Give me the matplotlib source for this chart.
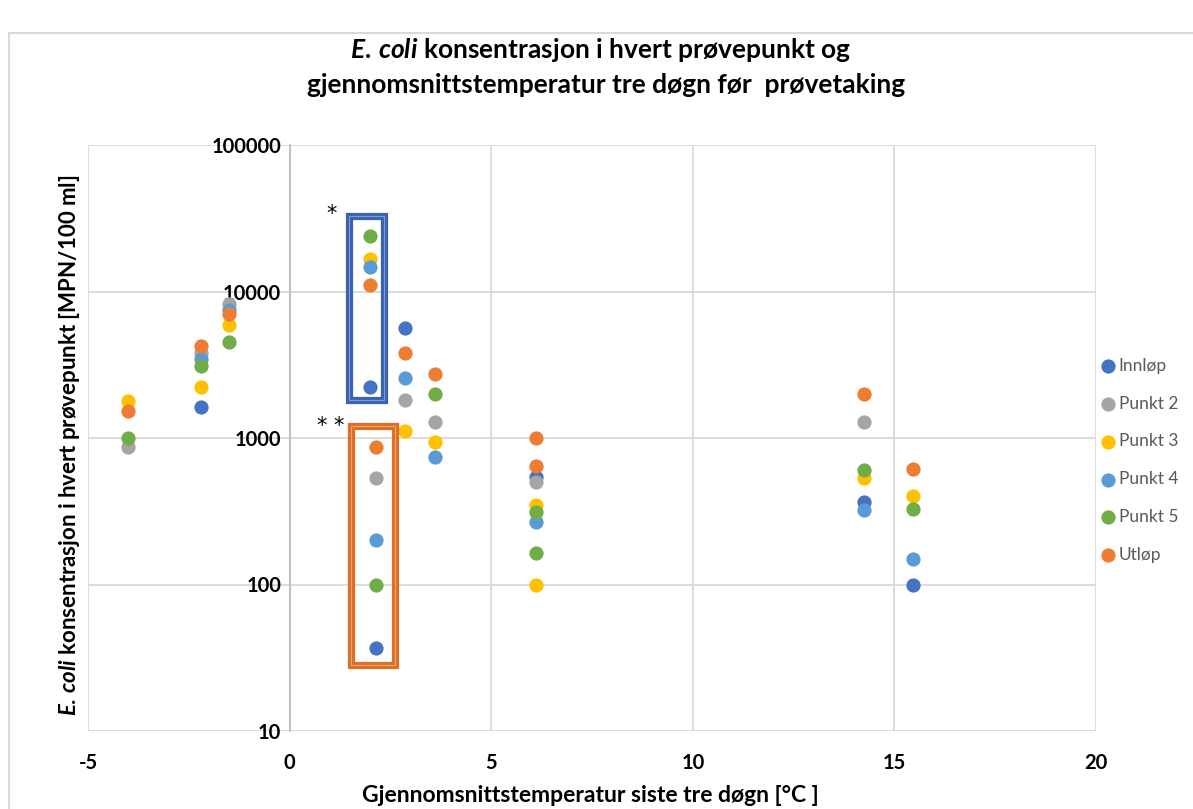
import numpy as np
import matplotlib
matplotlib.use("Agg")
import matplotlib.pyplot as plt
import matplotlib.patches as mpatches

plt.rcParams['font.family'] = ['Lato', 'DejaVu Sans']
plt.rcParams['font.weight'] = 'bold'
plt.rcParams['mathtext.fontset'] = 'custom'
plt.rcParams['mathtext.it'] = 'Lato:italic:bold'
plt.rcParams['mathtext.rm'] = 'Lato:bold'

nan = np.nan

# average temperature three days before sampling [°C]
temp = [-4.0, -2.2, -1.5, 2.0, 2.15, 2.85, 3.6, 6.1, 6.1, 14.25, 15.45]

# E. coli [MPN/100 ml] per sampling point
innlop = [nan, 1630, nan, 2230, 37, 5660, nan, 542, nan, 367, 100]
punkt2 = [868, 3820, 8260, nan, 535, 1810, 1290, 501, nan, 1290, nan]
punkt3 = [1790, 2230, 5930, 16700, nan, 1115, 945, 349, 100, 530, 402]
punkt4 = [nan, 3475, 7480, 14650, 202, 2550, 741, 267, nan, 323, 149]
punkt5 = [1000, 3085, 4540, 24100, 100, nan, 2005, 313, 164, 601, 326]
utlop = [1530, 4250, 7050, 11100, 868, 3820, 2720, 1000, 644, 2005, 618]

series = [("Innløp", innlop, "#4472C4"),
          ("Punkt 2", punkt2, "#A5A5A5"),
          ("Punkt 3", punkt3, "#FFC000"),
          ("Punkt 4", punkt4, "#5B9BD5"),
          ("Punkt 5", punkt5, "#70AD47"),
          ("Utløp", utlop, "#ED7D31")]

yticks = [10, 100, 1000, 10000, 100000]
xticks = [-5, 0, 5, 10, 15, 20]

fig = plt.figure(figsize=(11.93, 8.09), dpi=100)
ax = fig.add_axes([88/1193, 1-731/809, (1096-88)/1193, (731-145)/809])

for name, vals, col in series:
    ax.scatter(temp, vals, s=105, color=col, label=name, zorder=3, linewidths=0)

ax.set_yscale('log')
ax.set_xlim(-5, 20)
ax.set_ylim(10, 100000)
ax.set_xticks(xticks, [str(t) for t in xticks])
ax.set_yticks(yticks, [str(t) for t in yticks])
ax.yaxis.set_minor_locator(matplotlib.ticker.NullLocator())
ax.tick_params(axis='both', length=0, labelsize=14.5)
ax.tick_params(axis='x', pad=16)
ax.tick_params(axis='y', pad=6)
ax.grid(True, color='#D9D9D9', lw=1.3, zorder=0)
for sp in ['top', 'right', 'bottom']:
    ax.spines[sp].set_visible(False)
ax.spines['left'].set_position(('data', 0))
ax.spines['left'].set_color('#BFBFBF')
ax.spines['left'].set_linewidth(1.3)

# marked boxes
for (x0, x1, y0, y1, col, inner) in [(1.476, 2.35, 1824, 32900, '#3A62AE', '#7E9CD6'),
                                     (1.52, 2.61, 28.0, 1207, '#DD6E26', '#F3A56E')]:
    r1 = mpatches.Rectangle((x0, y0), x1 - x0, y1 - y0, fill=False, ec=col, lw=5.2, zorder=4)
    r2 = mpatches.Rectangle((x0, y0), x1 - x0, y1 - y0, fill=False, ec=inner, lw=0.8, zorder=5)
    ax.add_patch(r1)
    ax.add_patch(r2)
ax.text(1.04, 34000, "*", fontsize=15, fontweight='normal', family='DejaVu Sans',
        ha='center', va='center')
ax.text(1.02, 1207, "* *", fontsize=15, fontweight='normal', family='DejaVu Sans',
        ha='center', va='center')

leg = ax.legend(loc='center left', bbox_to_anchor=(0.995, 0.462), frameon=False,
                prop={'size': 12.5, 'weight': 'normal'}, labelspacing=1.25,
                handletextpad=0.0, borderaxespad=0, handlelength=1.2, labelcolor='#595959')

fig.text(0.503, 1-50/809, r"$\mathit{E.\,coli}$ konsentrasjon i hvert prøvepunkt og",
         ha='center', va='center', fontsize=19)
fig.text(0.508, 1-85/809, "gjennomsnittstemperatur tre døgn før  prøvetaking",
         ha='center', va='center', fontsize=19)
fig.text(0.495, 1-795/809, "Gjennomsnittstemperatur siste tre døgn [°C ]",
         ha='center', va='center', fontsize=16.5)
fig.text(70/1193, 1-445/809, r"$\mathit{E.\,coli}$ konsentrasjon i hvert prøvepunkt [MPN/100 ml]",
         ha='center', va='center', rotation=90, fontsize=16)

fig.patches.append(mpatches.Rectangle((9/1193, -0.1), 1.2, 1-33/809+0.1, transform=fig.transFigure,
                                      fill=False, ec='#D9D9D9', lw=1.5))

fig.savefig("out.png", dpi=100)
